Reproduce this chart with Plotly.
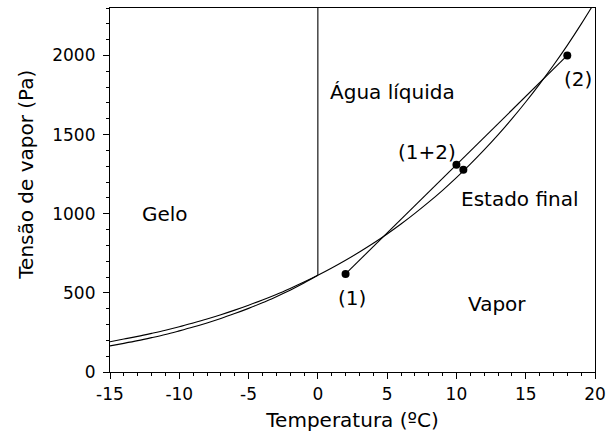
import plotly.graph_objects as go

# Saturated vapour pressure over liquid water (Pa)
t_water = [-15, -14, -13, -12, -11, -10, -9, -8, -7, -6, -5, -4, -3, -2, -1, 0,
           1, 2, 3, 4, 5, 6, 7, 8, 9, 10, 11, 12, 13, 14, 15, 16, 17, 18, 19, 20]
p_water = [191, 208, 225, 244, 264, 286, 310, 335, 362, 391, 422, 455, 490, 528, 568, 611,
           657, 706, 758, 813, 872, 935, 1002, 1073, 1148, 1228, 1313, 1403, 1498, 1599,
           1706, 1819, 1938, 2064, 2198, 2339]

# Vapour pressure over ice (Pa)
t_ice = [-15, -14, -13, -12, -11, -10, -9, -8, -7, -6, -5, -4, -3, -2, -1, 0]
p_ice = [165, 181, 198, 217, 237, 260, 284, 310, 338, 369, 402, 437, 476, 517, 562, 611]

# Melting line at 0 °C
t_melt = [0, 0]
p_melt = [611, 2400]

# Mixing states
t_states = [2, 18]
p_states = [620, 2000]
t_mix = [10, 10.5]
p_mix = [1310, 1278]

# Region / point labels
lab_text = ["Gelo", "Água líquida", "(1+2)", "Estado final", "Vapor", "(1)", "(2)"]
lab_x = [-11, 5.4, 7.9, 14.6, 12.9, 2.45, 18.8]
lab_y = [1000, 1770, 1390, 1096, 429, 470, 1853]

x_ticks = [-15, -10, -5, 0, 5, 10, 15, 20]
x_ticktext = ["-15", "-10", "-5", "0", "5", "10", "15", "20"]
y_ticks = [0, 500, 1000, 1500, 2000]
y_ticktext = ["0", "500", "1000", "1500", "2000"]

FONT = "DejaVu Sans, sans-serif"
line = dict(color="black", width=1.1)

fig = go.Figure()
fig.add_trace(go.Scatter(x=t_water, y=p_water, mode="lines", line=dict(shape="spline", **line)))
fig.add_trace(go.Scatter(x=t_ice, y=p_ice, mode="lines", line=dict(shape="spline", **line)))
fig.add_trace(go.Scatter(x=t_melt, y=p_melt, mode="lines", line=line))
fig.add_trace(go.Scatter(x=t_states, y=p_states, mode="lines+markers", line=line,
                         marker=dict(color="black", size=8)))
fig.add_trace(go.Scatter(x=t_mix, y=p_mix, mode="markers",
                         marker=dict(color="black", size=8)))

for txt, x, y in zip(lab_text, lab_x, lab_y):
    fig.add_annotation(x=x, y=y, text=txt, showarrow=False,
                       font=dict(family=FONT, size=20, color="black"))

fig.add_annotation(xref="paper", yref="paper", x=0, y=0.542, xshift=-84,
                   xanchor="center", yanchor="middle",
                   text="Tensão de vapor (Pa)", textangle=-90, showarrow=False,
                   font=dict(family=FONT, size=20, color="black"))

axis_common = dict(showgrid=False, zeroline=False, showline=True, linecolor="black",
                   linewidth=1.2, mirror=True, ticks="outside", ticklen=6,
                   tickcolor="black", tickwidth=1.2,
                   tickfont=dict(family=FONT, size=17, color="black"))

fig.update_layout(
    width=613, height=444,
    margin=dict(l=110, r=12, t=7, b=72),
    plot_bgcolor="white", paper_bgcolor="white",
    showlegend=False,
    xaxis=dict(range=[-15, 20], tickvals=x_ticks, ticktext=x_ticktext,
               minor=dict(dtick=1, ticks="outside", ticklen=3, tickcolor="black"),
               title=dict(text="Temperatura (ºC)", font=dict(family=FONT, size=20, color="black"),
                          standoff=10),
               **axis_common),
    yaxis=dict(range=[0, 2300], tickvals=y_ticks, ticktext=y_ticktext,
               ticklabelstandoff=4,
               minor=dict(dtick=100, ticks="outside", ticklen=3, tickcolor="black"),
               **axis_common),
)

fig.write_html("out.html", config={"displayModeBar": False},
               post_script="document.body.style.margin='0px';")
